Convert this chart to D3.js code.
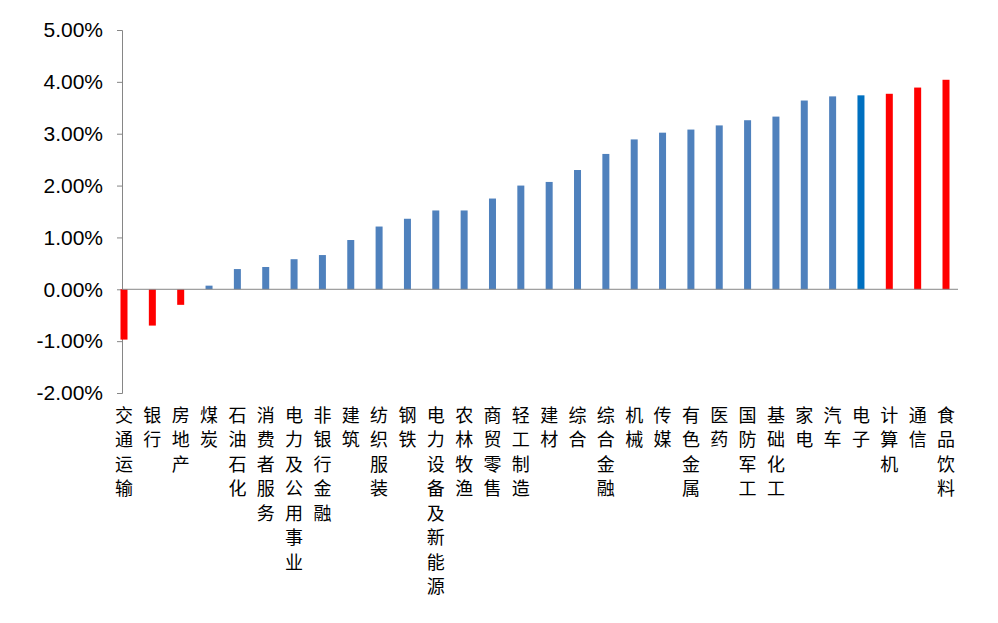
<!DOCTYPE html>
<html><head><meta charset="utf-8">
<script src="https://cdn.jsdelivr.net/npm/d3@7"></script>
<style>body{margin:0;background:#fff}</style>
</head><body>
<svg id="c" width="998" height="623"></svg>
<script>
var categories = ['交通运输','银行','房地产','煤炭','石油石化','消费者服务','电力及公用事业','非银行金融','建筑','纺织服装','钢铁','电力设备及新能源','农林牧渔','商贸零售','轻工制造','建材','综合','综合金融','机械','传媒','有色金属','医药','国防军工','基础化工','家电','汽车','电子','计算机','通信','食品饮料'];
var values = [-0.97,-0.70,-0.30,0.07,0.39,0.43,0.58,0.66,0.95,1.21,1.36,1.52,1.52,1.75,2.00,2.07,2.30,2.61,2.89,3.02,3.08,3.16,3.26,3.33,3.64,3.72,3.74,3.77,3.89,4.04];
var yTicks = [-2,-1,0,1,2,3,4,5];

function barColor( i ) {
  if ( i < 3 || i > 26 ) return '#ff0000';
  if ( i === 26 ) return '#0070c0';
  return '#4f81bd';
}

var svg = d3.select('#c'),
    x = d3.scalePoint().domain(categories).range([124, 946]),
    y = d3.scaleLinear().domain([-2, 5]).range([393, 30]);

// y axis
svg.append('g')
  .attr('transform', 'translate(122,0)')
  .call(d3.axisLeft(y).tickValues(yTicks).tickSize(5)
    .tickFormat(function( d ) { return d.toFixed(2) + '%'; }))
  .call(function( g ) {
    g.select('.domain').attr('stroke', '#868686');
    g.selectAll('.tick line').attr('stroke', '#868686');
    g.selectAll('.tick text')
      .attr('font-family', 'Liberation Sans, sans-serif')
      .attr('font-size', 21).attr('fill', '#000').attr('x', -19);
  });

// bars
svg.append('g').selectAll('rect')
  .data(values).enter().append('rect')
  .attr('x', function( d, i ) { return x(categories[i]) - 3.5; })
  .attr('width', 7)
  .attr('y', function( d ) { return y(Math.max(0, d)); })
  .attr('height', function( d ) { return Math.abs(y(d) - y(0)); })
  .attr('fill', function( d, i ) { return barColor(i); });

// zero line
svg.append('line')
  .attr('x1', 122).attr('x2', 958)
  .attr('y1', y(0)).attr('y2', y(0))
  .attr('stroke', '#868686');

// category labels, vertical upright
svg.append('g').selectAll('text')
  .data(categories).enter().append('text')
  .attr('x', function( d ) { return x(d); })
  .attr('y', 406)
  .attr('writing-mode', 'vertical-rl')
  .attr('text-orientation', 'upright')
  .attr('font-family', 'Noto Sans CJK SC, sans-serif')
  .attr('font-size', 18)
  .attr('letter-spacing', 6.5)
  .attr('fill', '#000')
  .text(function( d ) { return d; });
</script>
</body></html>
